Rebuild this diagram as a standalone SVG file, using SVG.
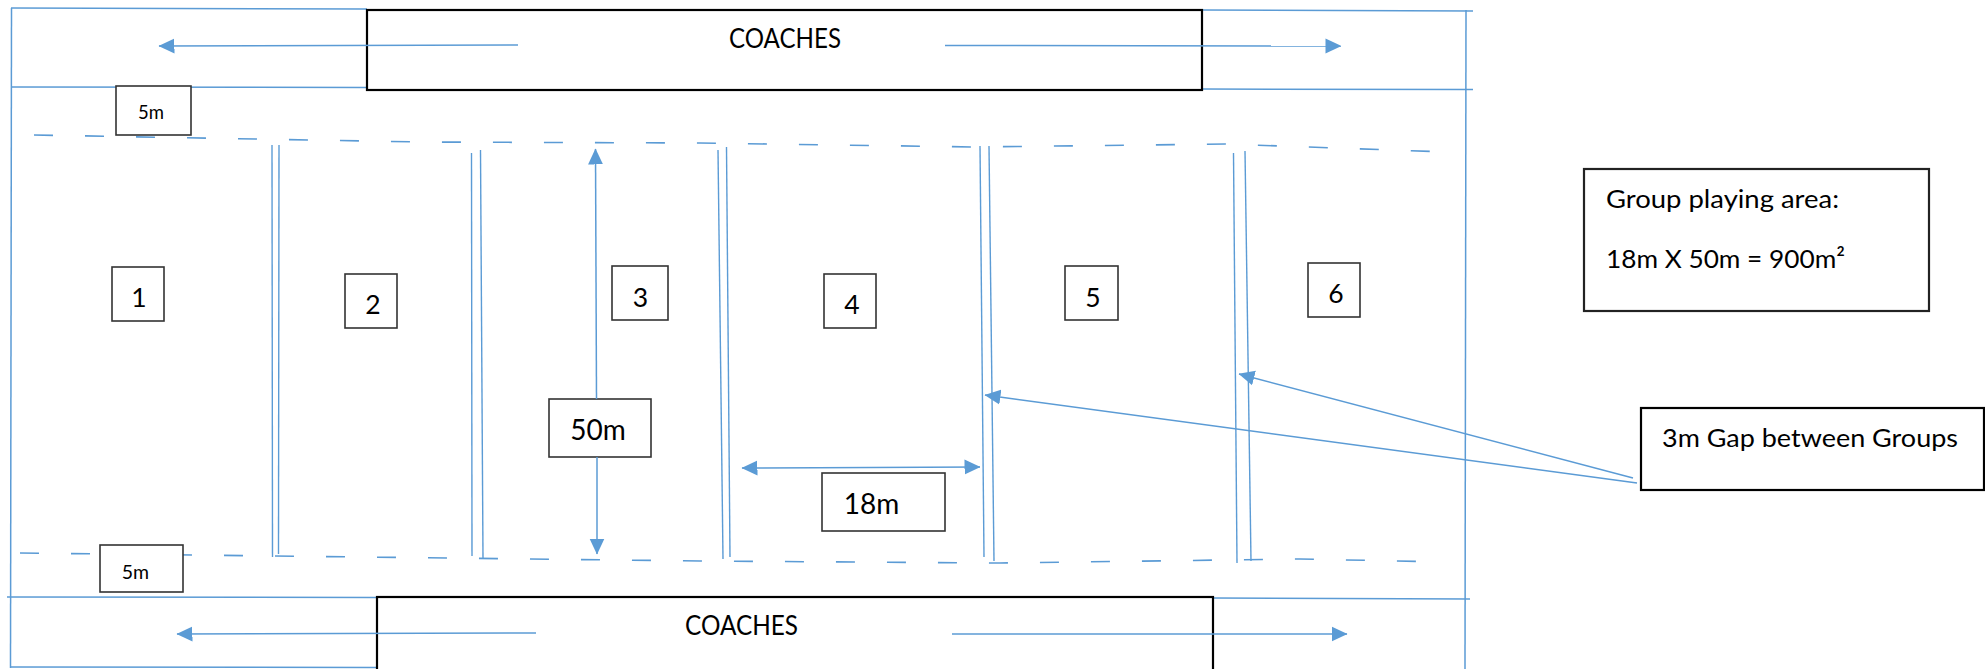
<svg xmlns="http://www.w3.org/2000/svg" width="1985" height="669" viewBox="0 0 1985 669">
  <style>
    .bg { fill: #ffffff; }
    .ln { stroke: #5b9bd5; stroke-width: 1.5; fill: none; }
    .sep { stroke: #5b9bd5; stroke-width: 1.4; fill: none; }
    .dash { stroke: #5b9bd5; stroke-width: 1.6; fill: none; stroke-dasharray: 19 32; }
    .arr { stroke: #5b9bd5; stroke-width: 1.5; fill: none; marker-end: url(#head); }
    .box { fill: #ffffff; stroke: #000000; stroke-width: 2.2; }
    .tag { fill: #ffffff; stroke: #333333; stroke-width: 1.6; }
    .txt { font-family: Lato, "Open Sans", "Liberation Sans", sans-serif; fill: #000000; }
  </style>
  <defs>
    <marker id="head" markerUnits="userSpaceOnUse" viewBox="0 0 16 16" markerWidth="16" markerHeight="16" refX="15.5" refY="8" orient="auto-start-reverse">
      <path d="M0,0.5 L16,8 L0,15.5 z" fill="#5b9bd5"/>
    </marker>
  </defs>

  <rect class="bg" x="0" y="0" width="1985" height="669"/>

  <!-- pitch outline, lanes and separators -->
  <g id="field">
    <line class="ln" x1="11" y1="8" x2="367" y2="9"/>
    <line class="ln" x1="1202" y1="10" x2="1473" y2="11"/>
    <line class="ln" x1="11" y1="87" x2="367" y2="87.5"/>
    <line class="ln" x1="1202" y1="89" x2="1473" y2="89.5"/>
    <line class="ln" x1="11.5" y1="8" x2="10.5" y2="668"/>
    <line class="ln" x1="1466" y1="10" x2="1465" y2="669"/>
    <line class="ln" x1="7" y1="597" x2="377" y2="597.5"/>
    <line class="ln" x1="1213" y1="598" x2="1470" y2="599"/>
    <line class="ln" x1="10" y1="667" x2="377" y2="667.5"/>

    <polyline class="dash" points="34,135 420,142 700,143 975,147 1225,144 1447,152"/>
    <polyline class="dash" points="20,553 700,561 1000,563 1300,559 1447,562"/>

    <line class="sep" x1="272" y1="145" x2="272.5" y2="557"/>
    <line class="sep" x1="279" y1="145" x2="278.5" y2="554"/>
    <line class="sep" x1="471.5" y1="153" x2="472" y2="556"/>
    <line class="sep" x1="480.5" y1="150" x2="483" y2="558"/>
    <line class="sep" x1="718" y1="150" x2="723" y2="559"/>
    <line class="sep" x1="726.5" y1="147" x2="730" y2="557"/>
    <line class="sep" x1="980" y1="146" x2="984" y2="557"/>
    <line class="sep" x1="989" y1="146" x2="994" y2="561"/>
    <line class="sep" x1="1233.5" y1="153" x2="1237" y2="563"/>
    <line class="sep" x1="1245" y1="151" x2="1251" y2="561"/>
  </g>

  <g id="coaches-top">
    <rect class="box" x="367" y="10" width="835" height="80"/>
    <text class="txt" x="729" y="48" font-size="26" textLength="112" lengthAdjust="spacingAndGlyphs">COACHES</text>
  </g>
  <g id="coaches-bottom">
    <rect class="box" x="377" y="597" width="836" height="90"/>
    <text class="txt" x="685" y="635" font-size="26" textLength="113" lengthAdjust="spacingAndGlyphs">COACHES</text>
  </g>

  <g id="margin-top">
    <rect class="tag" x="116" y="86" width="75" height="49"/>
    <text class="txt" x="151" y="119" font-size="18.5" text-anchor="middle">5m</text>
  </g>
  <g id="margin-bottom">
    <rect class="tag" x="100" y="545" width="83" height="47"/>
    <text class="txt" x="135.5" y="579" font-size="19.5" text-anchor="middle">5m</text>
  </g>

  <g id="group-1">
    <rect class="tag" x="112" y="267" width="52" height="54"/>
    <text class="txt" x="139" y="307" font-size="26.5" text-anchor="middle">1</text>
  </g>
  <g id="group-2">
    <rect class="tag" x="345" y="274" width="52" height="54"/>
    <text class="txt" x="373" y="314" font-size="26.5" text-anchor="middle">2</text>
  </g>
  <g id="group-3">
    <rect class="tag" x="612" y="266" width="56" height="54"/>
    <text class="txt" x="640.5" y="307" font-size="26.5" text-anchor="middle">3</text>
  </g>
  <g id="group-4">
    <rect class="tag" x="824" y="274" width="52" height="54"/>
    <text class="txt" x="852" y="314" font-size="26.5" text-anchor="middle">4</text>
  </g>
  <g id="group-5">
    <rect class="tag" x="1065" y="266" width="53" height="54"/>
    <text class="txt" x="1093" y="307" font-size="26.5" text-anchor="middle">5</text>
  </g>
  <g id="group-6">
    <rect class="tag" x="1308" y="263" width="52" height="54"/>
    <text class="txt" x="1336" y="303" font-size="26.5" text-anchor="middle">6</text>
  </g>

  <g id="length-label">
    <rect class="tag" x="549" y="399" width="102" height="58"/>
    <text class="txt" x="598" y="440" font-size="28" text-anchor="middle">50m</text>
  </g>
  <g id="width-label">
    <rect class="tag" x="822" y="473" width="123" height="58"/>
    <text class="txt" x="871.5" y="514" font-size="28" text-anchor="middle">18m</text>
  </g>

  <g id="area-note">
    <rect class="box" x="1584" y="169" width="345" height="142" style="stroke:#222222"/>
    <text class="txt" x="1606" y="208" font-size="25.5" textLength="233" lengthAdjust="spacingAndGlyphs">Group playing area:</text>
    <text class="txt" x="1606" y="268" font-size="25.5" textLength="239" lengthAdjust="spacingAndGlyphs">18m X 50m = 900m²</text>
  </g>
  <g id="gap-note">
    <rect class="box" x="1641" y="408" width="343" height="82"/>
    <text class="txt" x="1662" y="447" font-size="25.5" textLength="296" lengthAdjust="spacingAndGlyphs">3m Gap between Groups</text>
  </g>

  <!-- connectors, drawn over the coach bands -->
  <g id="connectors">
    <line class="arr" x1="518" y1="45" x2="159" y2="46"/>
    <line class="arr" x1="945" y1="45.5" x2="1341" y2="46"/>
    <line class="arr" x1="536" y1="633" x2="177" y2="634"/>
    <line class="arr" x1="952" y1="634" x2="1347" y2="634"/>
    <line class="arr" x1="596.5" y1="399" x2="595.5" y2="149"/>
    <line class="arr" x1="597" y1="457" x2="597" y2="554"/>
    <line class="arr" x1="742" y1="468" x2="980" y2="467" style="marker-start: url(#head)"/>
    <line class="arr" x1="1633" y1="478" x2="1239" y2="374"/>
    <line class="arr" x1="1637" y1="483" x2="985" y2="395"/>
  </g>
</svg>
